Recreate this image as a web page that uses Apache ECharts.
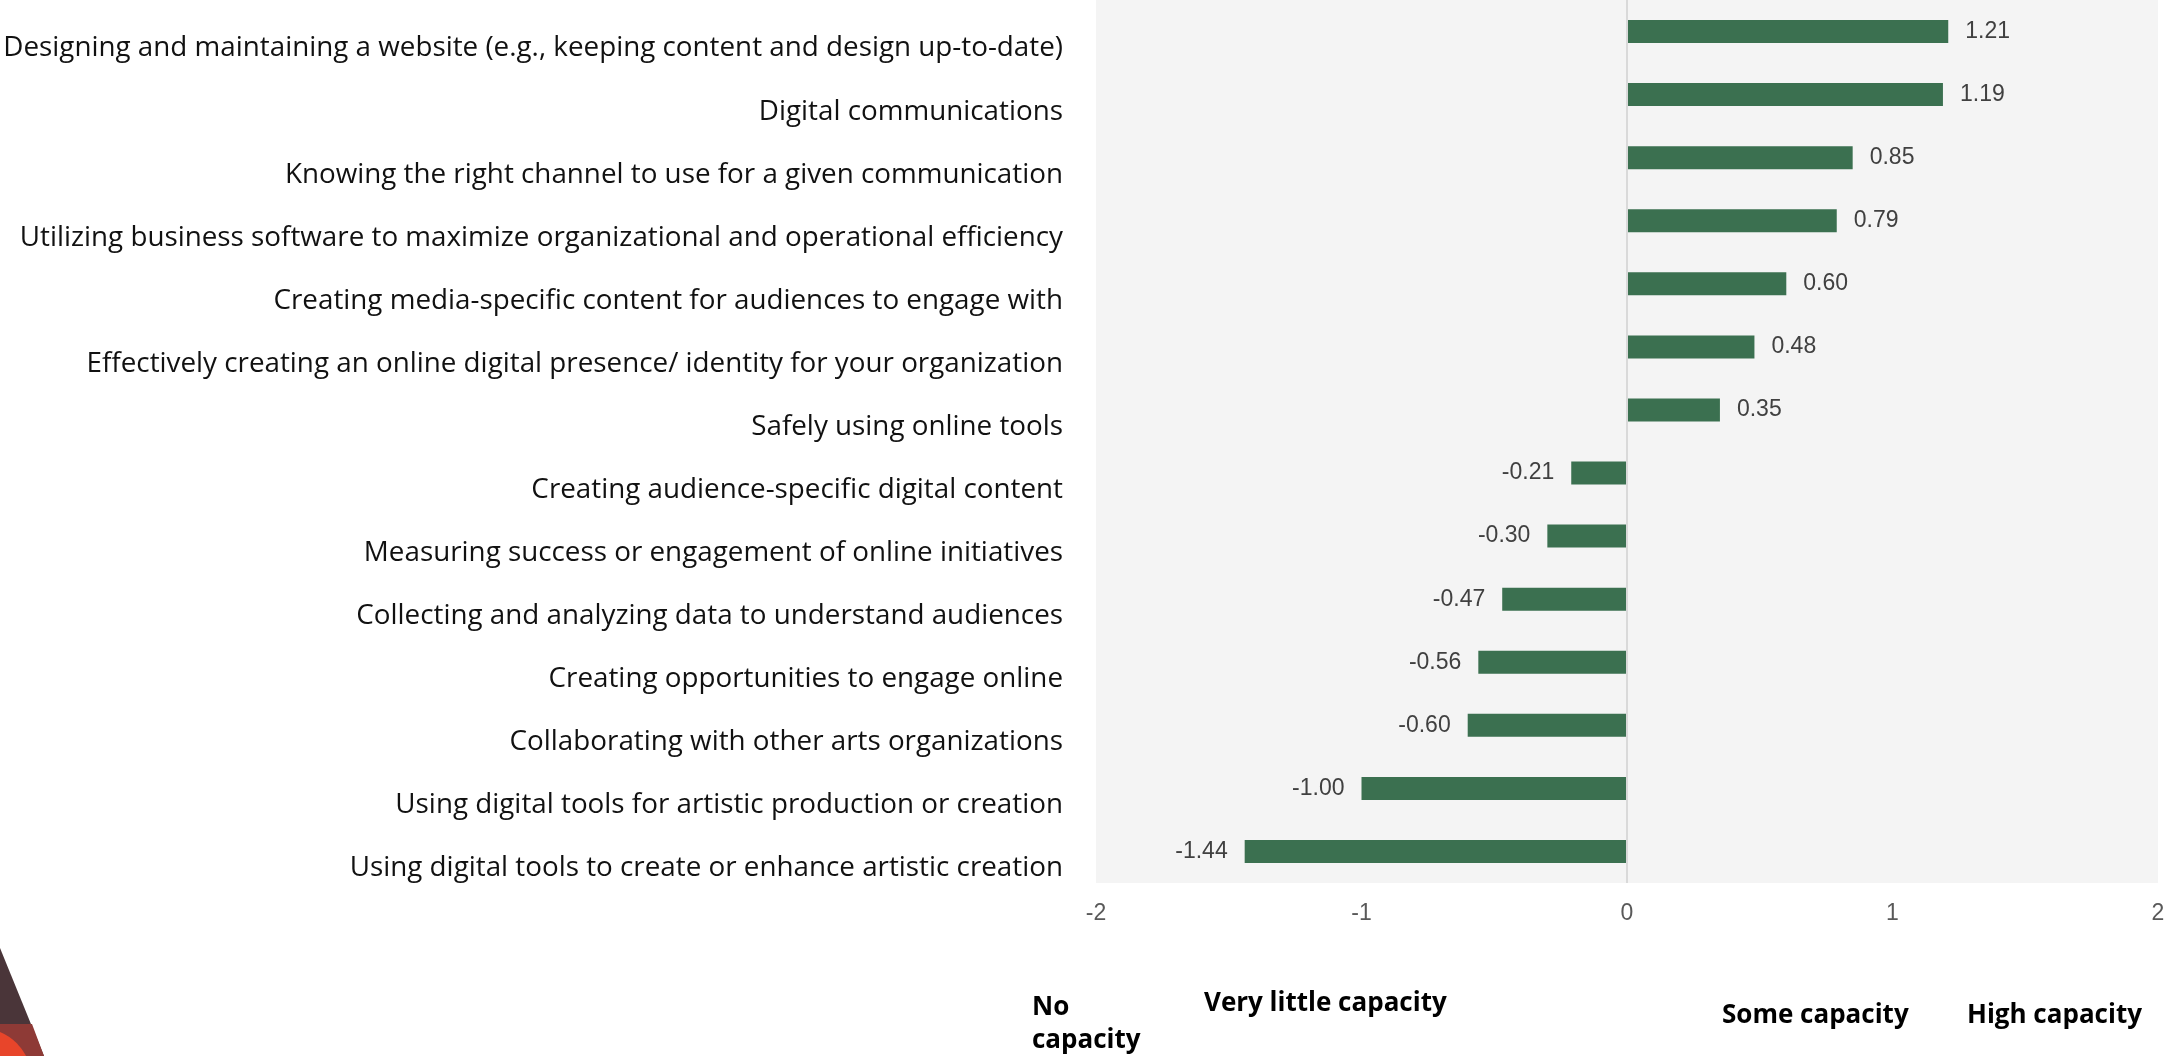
<!DOCTYPE html>
<html>
<head>
<meta charset="utf-8" />
<script src="https://cdn.jsdelivr.net/npm/echarts@6/dist/echarts.min.js"></script>
<style>
  html, body { margin: 0; padding: 0; background: #fff; }
  #main { width: 2169px; height: 1056px; }
</style>
</head>
<body>
<div id="main"></div>
<script>
// skills, top to bottom
var categories = [
    'Designing and maintaining a website (e.g., keeping content and design up-to-date)',
    'Digital communications',
    'Knowing the right channel to use for a given communication',
    'Utilizing business software to maximize organizational and operational efficiency',
    'Creating media-specific content for audiences to engage with',
    'Effectively creating an online digital presence/ identity for your organization',
    'Safely using online tools',
    'Creating audience-specific digital content',
    'Measuring success or engagement of online initiatives',
    'Collecting and analyzing data to understand audiences',
    'Creating opportunities to engage online',
    'Collaborating with other arts organizations',
    'Using digital tools for artistic production or creation',
    'Using digital tools to create or enhance artistic creation'
];
var scores = [1.21, 1.19, 0.85, 0.79, 0.60, 0.48, 0.35, -0.21, -0.30, -0.47, -0.56, -0.60, -1.00, -1.44];
var scaleLabels = ['No\ncapacity', 'Very little capacity', 'Some capacity', 'High capacity'];

var chart = echarts.init(document.getElementById('main'));
chart.setOption({
    animation: false,
    grid: {
        left: 1096, right: 11, top: 0, bottom: 173,
        show: true, backgroundColor: '#f4f4f4', borderWidth: 0
    },
    xAxis: {
        type: 'value', min: -2, max: 2, interval: 1,
        splitLine: { show: false },
        axisLine: { show: false },
        axisTick: { show: false },
        axisLabel: { color: '#595959', fontSize: 23, fontFamily: 'Liberation Sans', margin: 19 }
    },
    yAxis: {
        type: 'category', inverse: true, data: categories,
        axisLine: { show: false },
        axisTick: { show: false },
        axisLabel: {
            color: '#111', fontSize: 27.8, fontFamily: 'Open Sans', margin: 33,
            verticalAlign: 'top', lineHeight: 34
        }
    },
    series: [{
        type: 'bar',
        data: scores.map(function (v) {
            // negative bars carry their label on the left
            return v < 0 ? { value: v, label: { position: 'left' } } : v;
        }),
        barWidth: 23,
        itemStyle: { color: '#3b7050' },
        label: {
            show: true, distance: 17, position: 'right',
            color: '#404040', fontSize: 23, fontFamily: 'Liberation Sans',
            formatter: function (p) { return p.value.toFixed(2); }
        },
        markLine: {
            silent: true, symbol: 'none', label: { show: false },
            lineStyle: { color: '#d9d9d9', width: 2, type: 'solid' },
            data: [{ xAxis: 0 }]
        }
    }],
    graphic: [
        { type: 'text', left: 1032, top: 991, style: { text: scaleLabels[0], font: 'bold 26px "Open Sans"', fill: '#000', lineHeight: 33 } },
        { type: 'text', left: 1204, top: 991, style: { text: scaleLabels[1], font: 'bold 26px "Open Sans"', fill: '#000' } },
        { type: 'text', left: 1722, top: 1003, style: { text: scaleLabels[2], font: 'bold 26px "Open Sans"', fill: '#000' } },
        { type: 'text', left: 1967, top: 1003, style: { text: scaleLabels[3], font: 'bold 26px "Open Sans"', fill: '#000' } },
        { type: 'polygon', shape: { points: [[0, 948], [44, 1056], [0, 1056]] }, style: { fill: '#4a3539' } },
        { type: 'polygon', shape: { points: [[0, 1024], [32, 1024], [44, 1056], [0, 1056]] }, style: { fill: '#8e3a36' } },
        { type: 'circle', shape: { cx: -20, cy: 1080, r: 52 }, style: { fill: '#e8452a' } }
    ]
});
</script>
</body>
</html>
